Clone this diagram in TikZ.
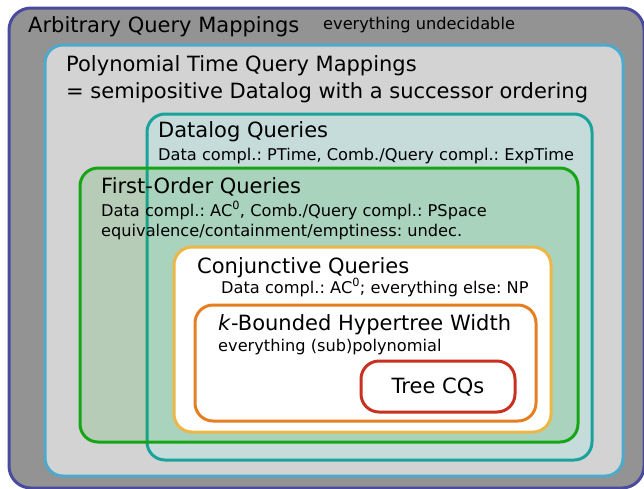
\documentclass[tikz,border=0pt]{standalone}
\usepackage{fontspec}
\setmainfont{DejaVu Sans}
\frenchspacing
\definecolor{outerfill}{HTML}{939393}
\definecolor{outerline}{HTML}{4A4A9E}
\definecolor{polyfill}{HTML}{D3D3D3}
\definecolor{polyline}{HTML}{4DAACC}
\definecolor{dlfill}{HTML}{C5DCDB}
\definecolor{dlline}{HTML}{1AA39B}
\definecolor{foline}{HTML}{16A516}
\definecolor{cqline}{HTML}{ECB746}
\definecolor{kline}{HTML}{E67E22}
\definecolor{treeline}{HTML}{C8301F}
\tikzset{
  box/.style={line width=3pt, rounded corners=#1},
  big/.style={anchor=base west, inner sep=0pt, font=\fontsize{21}{25}\selectfont},
  small/.style={anchor=base west, inner sep=0pt, font=\fontsize{16.2}{19}\selectfont},
}
\begin{document}
\begin{tikzpicture}[x=1pt,y=-1pt]
\useasboundingbox (0,0) rectangle (644,488);
\begin{scope}
\clip (0,0) rectangle (644,488);
% outer
\draw[box=22pt, draw=outerline, fill=outerfill] (9,8) rectangle (644,488);
\node[big] (arb) at (28,32) {Arbitrary Query Mappings};
\node[small] (arbsub) at (323,29) {everything undecidable};
% polynomial
\draw[box=18pt, draw=polyline, fill=polyfill] (45,45) rectangle (623,476);
\node[big] (poly1) at (66,71) {Polynomial Time Query Mappings};
\node[big] (poly2) at (66,98) {= semipositive Datalog with a successor ordering};
% datalog
\draw[box=18pt, draw=dlline, fill=dlfill] (147,114) rectangle (592,460);
\node[big] (dl) at (158,137) {Datalog Queries};
\node[small] (dlsub) at (158,160) {Data compl.: PTime, Comb./Query compl.: ExpTime};
% first order
\draw[box=18pt, draw=foline, fill=foline, fill opacity=0.15] (80,168) rectangle (578,442);
\node[big] (fo) at (101,193) {First-Order Queries};
\node[small] (fosub1) at (101,216) {Data compl.: AC\textsuperscript{0}, Comb./Query compl.: PSpace};
\node[small] (fosub2) at (101,236) {equivalence/containment/emptiness: undec.};
% conjunctive
\draw[box=18pt, draw=cqline, fill=white] (174,247) rectangle (551,432);
\node[big] (cq) at (197,273) {Conjunctive Queries};
\node[small] (cqsub) at (221,293) {Data compl.: AC\textsuperscript{0}; everything else: NP};
% k-bounded
\draw[box=18pt, draw=kline, fill=white] (195,305) rectangle (536,421);
\node[big] (kb) at (218,330) {\textit{k}-Bounded Hypertree Width};
\node[small] (kbsub) at (218,351) {everything (sub)polynomial};
% tree
\draw[box=18pt, draw=treeline, fill=white] (361,361) rectangle (515,412);
\node[anchor=center, inner sep=0pt, font=\fontsize{21}{25}\selectfont] (tree) at (438,387) {Tree CQs};
\end{scope}
\end{tikzpicture}
\end{document}
